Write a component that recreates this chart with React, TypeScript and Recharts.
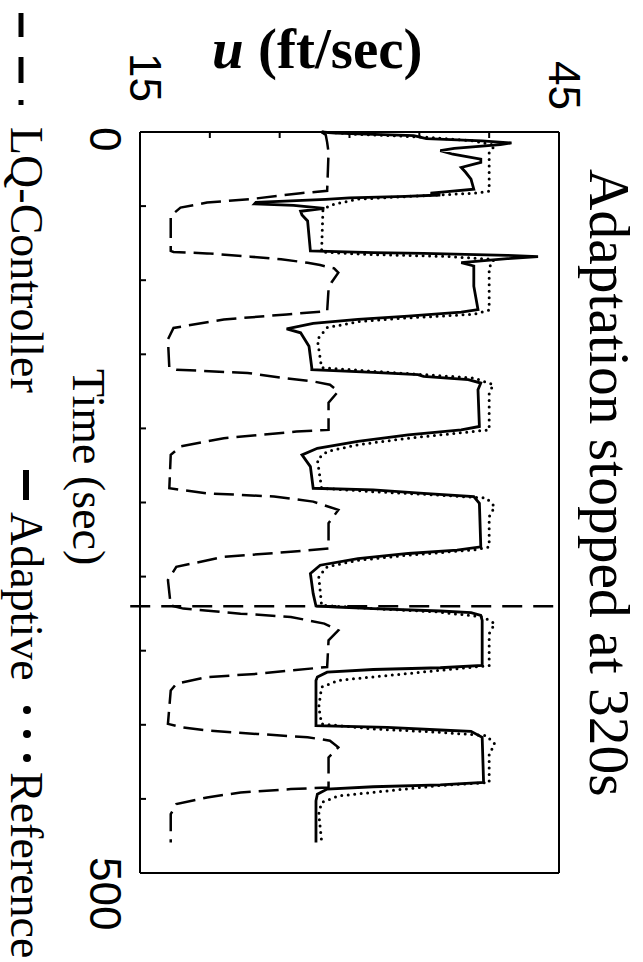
import React from "react";
import { LineChart, Line, XAxis, YAxis, ReferenceLine, Legend } from "recharts";

// [time (s), u (ft/sec)]
const referenceSpeed: [number, number][] = [
  [0, 28.1], [1.5, 30.5], [3.5, 35.5], [6, 38.9], [9, 40.4], [14, 40.0], [40, 40.0],
  [41.3, 38.9], [43.5, 34.2], [45.3, 30.6], [48.7, 28.9], [52, 28.1], [81, 28.0],
  [82.5, 31.0], [84, 37.0], [86, 40.3], [88.2, 40.3], [91, 40.0], [120.2, 40.0],
  [123, 38.9], [125.4, 34.2], [128, 30.6], [132, 28.4], [140, 27.7], [159, 28.0],
  [161.5, 31.7], [163.7, 35.3], [166, 38.9], [170.5, 40.3], [176, 40.0], [201, 40.0],
  [203.2, 37.7], [206.6, 34.2], [211, 30.6], [215.6, 28.4], [221, 27.7], [240.4, 28.0],
  [242.7, 31.7], [245, 36.4], [247, 39.8], [252.8, 40.4], [259.6, 40.0], [280, 40.0],
  [282, 38.9], [285.5, 34.2], [289, 30.6], [293.4, 28.4], [300, 27.8], [319.4, 28.0],
  [321.6, 31.7], [323.9, 36.4], [327.3, 39.6], [331.7, 40.4], [338.5, 40.0], [360, 40.0],
  [363.3, 36.4], [366.7, 32.8], [370, 29.2], [374.6, 28.0], [388, 27.8], [399.4, 28.0],
  [402.8, 31.7], [405, 36.4], [407.3, 39.8], [413, 40.4], [419.7, 40.0], [438.9, 40.0],
  [441, 36.4], [444.5, 32.8], [448, 29.2], [452.4, 28.0], [460, 27.8], [478.4, 28.0],
];

const adaptiveSpeed: [number, number][] = [
  [0, 28.0], [0.8, 29.0], [2.5, 34.6], [4.5, 35.5], [6, 39.5], [7.4, 41.6], [8.5, 40.8],
  [11, 37.5], [12.6, 36.5], [15, 37.4], [18.3, 39.4], [20.5, 39.4], [23.9, 38.0],
  [27, 38.3], [31.8, 38.7], [38.6, 38.9], [40.3, 37.0], [41.3, 35.8], [42.5, 36.5],
  [43.5, 34.0], [44.5, 30.0], [45.5, 28.3], [47.5, 23.3], [48.5, 23.2], [49.5, 26.0],
  [51.5, 28.2], [53.5, 26.5], [56, 26.6], [60, 27.0], [80.3, 27.2],
  [81.4, 31.7], [81.9, 35.3], [83.2, 41.3], [84.1, 43.5], [85.5, 41.3], [88.2, 38.0],
  [90.4, 38.9], [104, 38.9], [119.8, 39.2], [121.6, 38.0], [124.3, 34.2], [126.5, 30.6],
  [129.2, 27.4], [132.8, 25.5], [135.5, 26.5], [144.6, 27.1], [159.2, 27.3],
  [160.4, 27.3], [162.2, 31.7], [163.7, 34.9], [164.9, 35.3], [167.1, 38.5], [169.4, 39.4],
  [173.9, 39.2], [198.7, 39.3], [201, 38.0], [204.3, 34.2], [208.8, 30.6], [213.4, 27.7],
  [217.9, 26.6], [225.8, 27.2], [240.4, 27.4],
  [241.5, 31.7], [243.8, 35.3], [246, 38.9], [250.5, 39.3], [279.9, 39.4], [282.1, 37.7],
  [284.4, 34.2], [287.8, 30.6], [292.3, 27.9], [297.9, 27.2], [311.5, 27.4], [319.8, 27.6],
  [320.5, 29.1], [321.6, 31.7], [323.2, 36.5], [324.3, 38.7], [326.1, 39.4], [329.5, 39.5],
  [360, 39.5], [361.5, 36.5], [362.7, 31.7], [364.5, 28.4], [367.8, 27.7], [370.1, 27.6],
  [400.5, 27.6], [401.7, 32.7], [403.5, 36.5], [404.4, 38.7], [408.4, 39.5], [438.9, 39.6],
  [440.5, 36.5], [441.8, 31.7], [443.4, 28.4], [446.8, 27.7], [451.3, 27.6], [479.5, 27.6],
];

const lqSpeed: [number, number][] = [
  [0, 28.0], [2, 28.3], [7, 28.4], [13.8, 28.5], [39.7, 28.4], [41.3, 26.5], [45.3, 22.9],
  [47.6, 19.8], [51, 17.9], [56.6, 17.2], [80.3, 17.2],
  [81, 17.4], [81.9, 19.8], [84.1, 22.9], [85.9, 25.1], [88.2, 27.0], [89.8, 27.9],
  [92, 28.9], [94.9, 29.2], [101.7, 28.7], [106, 28.5], [120.9, 28.4], [123.1, 25.5],
  [126.5, 21.0], [132.2, 17.4], [140, 17.0], [159.2, 17.1],
  [160.4, 17.6], [162.6, 22.7], [166, 25.3], [168.3, 27.4], [170.5, 28.6], [175, 29.2],
  [182.6, 28.5], [201, 28.5], [202.1, 26.2], [206.6, 21.0], [212.2, 17.9], [217.9, 17.2],
  [240.4, 17.1],
  [243.8, 19.8], [246, 24.6], [249.4, 27.4], [255, 29.2], [264, 28.5], [281, 28.5],
  [283.3, 25.8], [286.7, 21.0], [293.4, 17.6], [302.4, 17.0], [319.4, 17.2],
  [321.6, 18.1], [325, 22.2], [327.2, 25.8], [331.7, 28.2], [336.3, 29.2], [343, 28.5],
  [361, 28.4], [365.6, 23.4], [367.8, 19.8], [372.3, 17.6], [376.9, 17.2], [399.4, 17.0],
  [401.7, 18.0], [403.9, 19.8], [406.2, 23.4], [408.4, 27.0], [410.7, 28.6], [415.2, 29.2],
  [422, 28.5], [442.3, 28.5], [443.4, 25.8], [445.7, 22.2], [449, 19.8], [453.5, 17.6],
  [460.3, 17.2], [479.5, 17.2],
];

const timeTicks = [0, 50, 100, 150, 200, 250, 300, 350, 400, 450, 500];
const speedTicks = [15, 20, 25, 30, 35, 40, 45];
const adaptationStop = 320;

const toPoints = (rows: [number, number][]) => rows.map(([t, u]) => ({ t, u }));

const SERIF = "'Liberation Serif', 'Times New Roman', serif";
const SANS = "'Liberation Sans', Arial, sans-serif";

const W = 962;
const H = 643;

// where the end labels sit relative to their tick (only first/last are labelled)
const timeLabelShift: Record<number, number> = { 0: -5, 500: -16 };
const speedLabelAnchor: Record<number, number> = { 15: 102, 45: 110 };

function TimeTick(props: any) {
  const { x, payload } = props;
  const dx = timeLabelShift[payload.value];
  if (dx === undefined) return <g />;
  return (
    <text x={x + dx} y={553} fontFamily={SANS} fontSize={44} fill="#000" textAnchor="start">
      {payload.value}
    </text>
  );
}

function SpeedTick(props: any) {
  const { y, payload } = props;
  const ax = speedLabelAnchor[payload.value];
  if (ax === undefined) return <g />;
  return (
    <text x={ax} y={y + 10.5} fontFamily={SANS} fontSize={44} fill="#000" textAnchor="end">
      {payload.value}
    </text>
  );
}

// mirrored sides keep their tick marks but carry no numbers
const NoLabel = () => <g />;

const timeTitle = () => (
  <text x={369} y={570} fontFamily={SERIF} fontSize={46} fill="#000">
    Time (sec)
  </text>
);

const plotTitle = () => (
  <text x={169} y={53} fontFamily={SERIF} fontSize={57.5} fill="#000">
    Adaptation stopped at 320s
  </text>
);

const speedTitle = () => (
  <text
    x={68}
    y={431}
    transform="rotate(-90 68 431)"
    fontFamily={SERIF}
    fontSize={57}
    fontWeight="bold"
    fill="#000"
  >
    <tspan fontStyle="italic">u</tspan>
    {" (ft/sec)"}
  </text>
);

const renderLegend = () => (
  <svg width={W} height={55} style={{ overflow: "visible", display: "block" }}>
    <g stroke="#000" strokeWidth={5}>
      <line x1={13} y1={34} x2={37} y2={34} />
      <line x1={57} y1={34} x2={83} y2={34} />
      <line x1={100} y1={34} x2={105} y2={34} />
    </g>
    <text x={127} y={44} fontFamily={SERIF} fontSize={46} fill="#000">
      LQ-Controller
    </text>
    <line x1={470} y1={29} x2={500} y2={29} stroke="#000" strokeWidth={6} />
    <text x={512} y={44} fontFamily={SERIF} fontSize={46} fill="#000">
      Adaptive
    </text>
    <circle cx={710} cy={28} r={4} fill="#000" />
    <circle cx={734} cy={28} r={4} fill="#000" />
    <circle cx={758} cy={28} r={4} fill="#000" />
    <text x={772} y={44} fontFamily={SERIF} fontSize={46} fill="#000">
      Reference
    </text>
  </svg>
);

const axisLine = { stroke: "#000", strokeWidth: 2 };
const tickLine = { stroke: "#000", strokeWidth: 2 };

export default function App() {
  return (
    <div
      style={{
        position: "absolute",
        left: 0,
        top: 0,
        width: H,
        height: W,
        overflow: "hidden",
        background: "#fff",
      }}
    >
      {/* the figure is laid out landscape and turned a quarter clockwise */}
      <div
        style={{
          position: "absolute",
          left: 0,
          top: 0,
          width: W,
          height: H,
          transformOrigin: "0 0",
          transform: `translate(${H}px, 0) rotate(90deg)`,
        }}
      >
        {/* axes are 1px thick so the plot box lands at x 133..872, y 85..503 */}
        <LineChart width={W} height={H} margin={{ top: 84, right: 89, bottom: 139, left: 132 }}>
          <XAxis
            xAxisId="t"
            dataKey="t"
            type="number"
            domain={[0, 500]}
            ticks={timeTicks}
            interval={0}
            height={1}
            tickSize={-6}
            axisLine={axisLine}
            tickLine={tickLine}
            tick={TimeTick}
            label={timeTitle}
          />
          <XAxis
            xAxisId="top"
            orientation="top"
            dataKey="t"
            type="number"
            domain={[0, 500]}
            ticks={timeTicks}
            interval={0}
            height={1}
            mirror
            tickSize={6}
            axisLine={axisLine}
            tickLine={tickLine}
            tick={NoLabel}
            label={plotTitle}
          />
          <YAxis
            yAxisId="u"
            type="number"
            domain={[15, 45]}
            ticks={speedTicks}
            interval={0}
            width={1}
            mirror
            tickSize={6}
            axisLine={axisLine}
            tickLine={tickLine}
            tick={SpeedTick}
            label={speedTitle}
          />
          <YAxis
            yAxisId="right"
            orientation="right"
            type="number"
            domain={[15, 45]}
            ticks={speedTicks}
            interval={0}
            width={1}
            mirror
            tickSize={6}
            axisLine={axisLine}
            tickLine={tickLine}
            tick={NoLabel}
          />
          <Line
            xAxisId="t"
            yAxisId="u"
            data={toPoints(lqSpeed)}
            dataKey="u"
            name="LQ-Controller"
            type="linear"
            stroke="#000"
            strokeWidth={2.5}
            strokeDasharray="20 8"
            dot={false}
            activeDot={false}
            isAnimationActive={false}
          />
          <Line
            xAxisId="t"
            yAxisId="u"
            data={toPoints(referenceSpeed)}
            dataKey="u"
            name="Reference"
            type="linear"
            stroke="#000"
            strokeWidth={3}
            strokeDasharray="0 6.5"
            strokeLinecap="round"
            dot={false}
            activeDot={false}
            isAnimationActive={false}
          />
          <Line
            xAxisId="t"
            yAxisId="u"
            data={toPoints(adaptiveSpeed)}
            dataKey="u"
            name="Adaptive"
            type="linear"
            stroke="#000"
            strokeWidth={2.8}
            dot={false}
            activeDot={false}
            isAnimationActive={false}
          />
          <ReferenceLine
            xAxisId="t"
            yAxisId="u"
            segment={[
              { x: adaptationStop, y: 14.3 },
              { x: adaptationStop, y: 45 },
            ]}
            ifOverflow="visible"
            stroke="#000"
            strokeWidth={2.5}
            strokeDasharray="20 11"
          />
          <Legend
            verticalAlign="middle"
            align="center"
            layout="horizontal"
            content={renderLegend}
            wrapperStyle={{ left: 0, top: 588, width: W, height: 55 }}
          />
        </LineChart>
      </div>
    </div>
  );
}
